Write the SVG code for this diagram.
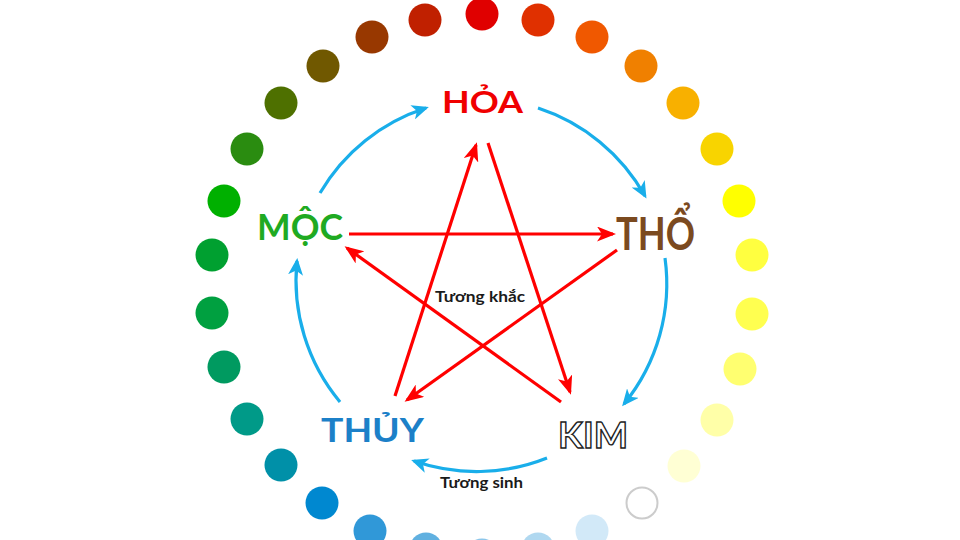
<svg xmlns="http://www.w3.org/2000/svg" width="960" height="540" viewBox="0 0 960 540">
<style>
.dot{stroke:none}
.lbl{font-family:Lato,"Open Sans","Noto Sans",sans-serif;font-weight:bold}
.small{font-family:Lato,"Open Sans","Noto Sans",sans-serif;font-weight:bold;font-size:15px;fill:#1a1a1a}
.blue{fill:none;stroke:#19aeea;stroke-width:3.2;marker-end:url(#ab)}
.red{fill:none;stroke:#ff0000;stroke-width:3.2;marker-end:url(#ar)}
</style>
<defs>
<marker id="ab" viewBox="0 0 17 15" refX="14" refY="7.5" markerWidth="17" markerHeight="15" markerUnits="userSpaceOnUse" orient="auto">
<path d="M0,0 L17,7.5 L0,15 L4.5,7.5 z" fill="#19aeea"/>
</marker>
<marker id="ar" viewBox="0 0 19 15" refX="16" refY="7.5" markerWidth="19" markerHeight="15" markerUnits="userSpaceOnUse" orient="auto">
<path d="M0,0 L19,7.5 L0,15 L5,7.5 z" fill="#ff0000"/>
</marker>
</defs>
<rect width="960" height="540" fill="#ffffff"/>
<g id="ring">
<circle class="dot" cx="482" cy="14" r="16.5" fill="#e00000"/>
<circle class="dot" cx="538" cy="20" r="16.5" fill="#e03000"/>
<circle class="dot" cx="592" cy="37" r="16.5" fill="#f05800"/>
<circle class="dot" cx="641" cy="66" r="16.5" fill="#f08000"/>
<circle class="dot" cx="683" cy="103" r="16.5" fill="#f8b000"/>
<circle class="dot" cx="717" cy="149" r="16.5" fill="#f8d400"/>
<circle class="dot" cx="739" cy="201" r="16.5" fill="#ffff00"/>
<circle class="dot" cx="752" cy="255" r="16.5" fill="#ffff40"/>
<circle class="dot" cx="752" cy="314" r="16.5" fill="#ffff50"/>
<circle class="dot" cx="740" cy="369" r="16.5" fill="#ffff70"/>
<circle class="dot" cx="717" cy="420" r="16.5" fill="#ffffa8"/>
<circle class="dot" cx="684" cy="466" r="16.5" fill="#ffffd4"/>
<circle cx="642" cy="503" r="15.5" fill="#ffffff" stroke="#cccccc" stroke-width="2"/>
<circle class="dot" cx="592" cy="531" r="16.5" fill="#d2e9f8"/>
<circle class="dot" cx="538" cy="549" r="16.5" fill="#b0d8f0"/>
<circle class="dot" cx="482" cy="555" r="16.5" fill="#8cc6ea"/>
<circle class="dot" cx="426" cy="549" r="16.5" fill="#60b0e0"/>
<circle class="dot" cx="370" cy="531" r="16.5" fill="#3098d8"/>
<circle class="dot" cx="322" cy="503" r="16.5" fill="#0088d0"/>
<circle class="dot" cx="281" cy="465" r="16.5" fill="#0090a8"/>
<circle class="dot" cx="247" cy="419" r="16.5" fill="#009a88"/>
<circle class="dot" cx="224" cy="367" r="16.5" fill="#009a60"/>
<circle class="dot" cx="212" cy="313" r="16.5" fill="#00a040"/>
<circle class="dot" cx="212" cy="255" r="16.5" fill="#00a030"/>
<circle class="dot" cx="224" cy="201" r="16.5" fill="#00b000"/>
<circle class="dot" cx="247" cy="149" r="16.5" fill="#2a8c10"/>
<circle class="dot" cx="281" cy="103" r="16.5" fill="#4e7000"/>
<circle class="dot" cx="323" cy="66" r="16.5" fill="#705800"/>
<circle class="dot" cx="372" cy="37" r="16.5" fill="#983800"/>
<circle class="dot" cx="425" cy="20" r="16.5" fill="#c02000"/>
</g>
<g id="connectors">
<path class="blue" d="M320,193 A190,190 0 0 1 426,108"/>
<path class="blue" d="M538,108 A190,190 0 0 1 645,196"/>
<path class="blue" d="M665,258 A190,190 0 0 1 624,404"/>
<path class="blue" d="M547,458 A190,190 0 0 1 414,461"/>
<path class="blue" d="M340,402 A190,190 0 0 1 297,261"/>
<path class="red" d="M349,234 L613,234"/>
<path class="red" d="M561,402 L347,248"/>
<path class="red" d="M488,143 L570,392"/>
<path class="red" d="M617,250 L407,400"/>
<path class="red" d="M395,396 L476,145"/>
</g>
<g id="hoa"><text class="lbl" x="442" y="113" font-size="30" fill="#f00000" textLength="81" lengthAdjust="spacingAndGlyphs">HỎA</text></g>
<g id="tho"><text class="lbl" x="616" y="250" font-size="45" fill="#7b4a1f" textLength="79" lengthAdjust="spacingAndGlyphs">THỔ</text></g>
<g id="kim"><text class="lbl" x="558" y="448" font-size="36" fill="#ffffff" stroke="#222222" stroke-width="1.4" textLength="70" lengthAdjust="spacingAndGlyphs">KIM</text></g>
<g id="thuy"><text class="lbl" x="321" y="442" font-size="33" fill="#1c80c8" textLength="103" lengthAdjust="spacingAndGlyphs">THỦY</text></g>
<g id="moc"><text class="lbl" x="257" y="240" font-size="37" fill="#1faa22" textLength="86" lengthAdjust="spacingAndGlyphs">MỘC</text></g>
<g id="labels">
<text class="small" x="435" y="302" textLength="90" lengthAdjust="spacingAndGlyphs">Tương khắc</text>
<text class="small" x="440" y="488" textLength="83" lengthAdjust="spacingAndGlyphs">Tương sinh</text>
</g>
</svg>
